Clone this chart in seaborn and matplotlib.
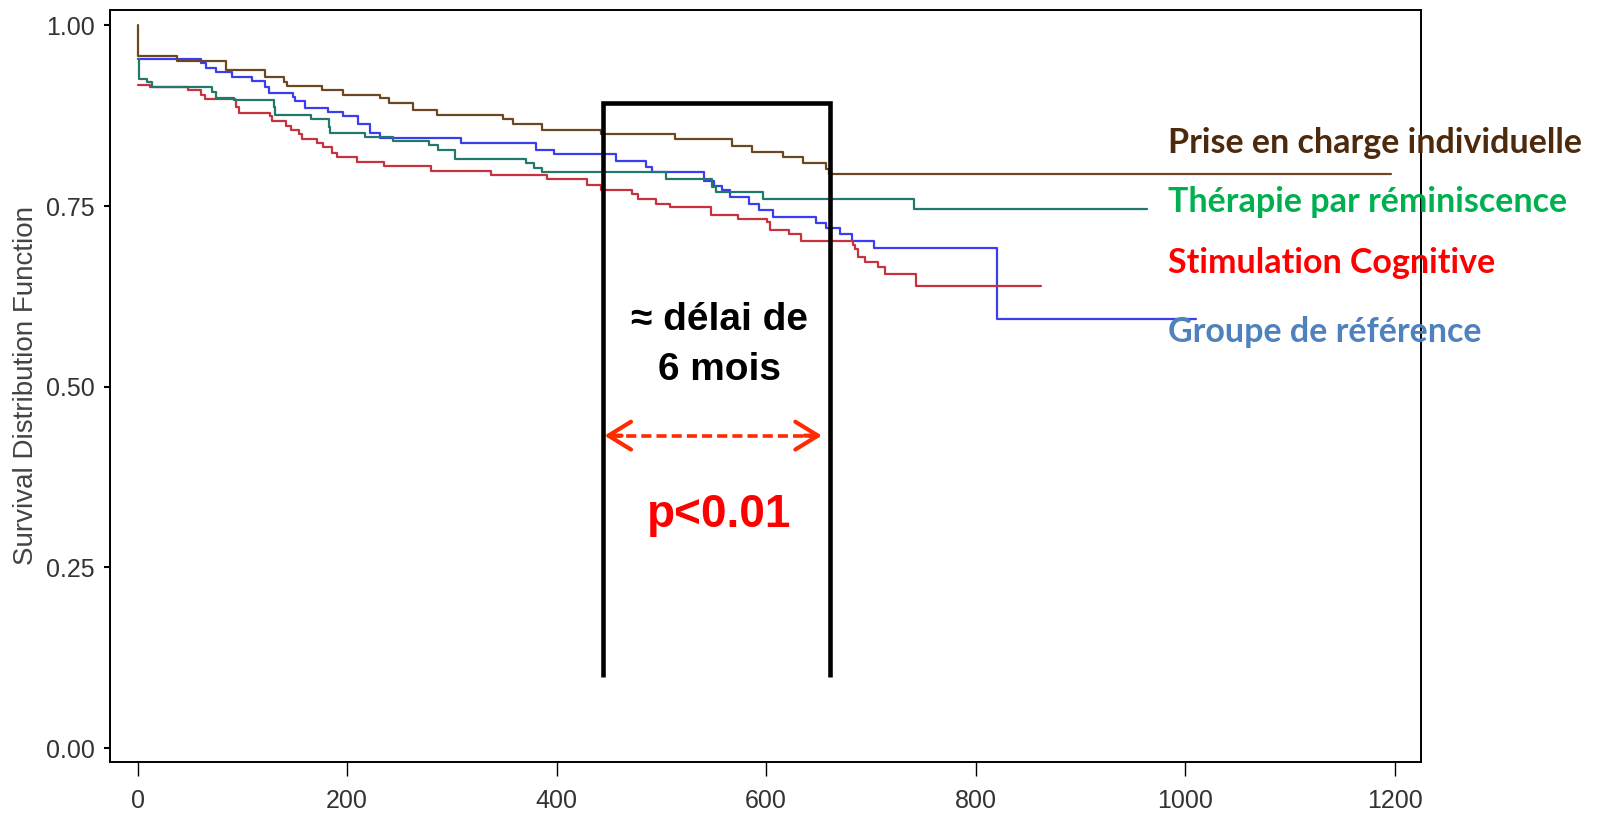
import numpy as np
import pandas as pd
import matplotlib
matplotlib.use("Agg")
import matplotlib.pyplot as plt
import seaborn as sns

# ==========================================
# 1. DATA
# ==========================================
# each group: times (days) where the step changes, and survival value from that time on
groups = ["Groupe de référence", "Stimulation Cognitive",
          "Thérapie par réminiscence", "Prise en charge individuelle"]

t_ref = [0, 61, 65, 75, 90, 109, 122, 125, 148, 150, 160, 182, 196, 210, 222, 231,
         309, 380, 398, 457, 485, 491, 541, 550, 558, 566, 584, 593, 607, 648, 657,
         671, 682, 703, 820, 1010]
s_ref = [0.953, 0.948, 0.941, 0.936, 0.929, 0.923, 0.915, 0.907, 0.901, 0.895, 0.886,
         0.880, 0.874, 0.864, 0.851, 0.844, 0.837, 0.827, 0.822, 0.812, 0.804, 0.797,
         0.784, 0.778, 0.772, 0.763, 0.753, 0.744, 0.735, 0.726, 0.719, 0.711, 0.702,
         0.692, 0.594, 0.594]

t_stim = [0, 12, 48, 61, 64, 93, 94, 97, 126, 128, 142, 146, 154, 157, 171, 177, 186,
          190, 209, 235, 280, 337, 391, 429, 442, 472, 478, 495, 508, 547, 573, 601,
          604, 622, 633, 683, 685, 688, 694, 707, 714, 743, 862]
s_stim = [0.917, 0.914, 0.910, 0.904, 0.898, 0.896, 0.887, 0.879, 0.874, 0.868, 0.861,
          0.855, 0.849, 0.843, 0.837, 0.831, 0.824, 0.818, 0.811, 0.806, 0.799, 0.793,
          0.787, 0.779, 0.772, 0.766, 0.760, 0.753, 0.748, 0.738, 0.732, 0.728, 0.717,
          0.711, 0.702, 0.696, 0.691, 0.680, 0.672, 0.665, 0.656, 0.640, 0.640]

t_remi = [0, 1.5, 9, 14, 71, 75, 92, 130, 131, 166, 183, 184, 217, 244, 278, 287, 303,
          371, 378, 386, 504, 548, 552, 597, 741, 964]
s_remi = [0.954, 0.926, 0.921, 0.914, 0.908, 0.900, 0.896, 0.887, 0.876, 0.870, 0.860,
          0.851, 0.846, 0.840, 0.834, 0.827, 0.815, 0.809, 0.803, 0.797, 0.788, 0.776,
          0.770, 0.760, 0.746, 0.746]

t_indiv = [0, 0.8, 38, 84, 122, 140, 143, 176, 196, 231, 240, 263, 286, 349, 358, 386,
           442, 513, 567, 587, 616, 635, 657, 660, 1197]
s_indiv = [1.000, 0.957, 0.951, 0.938, 0.929, 0.922, 0.916, 0.910, 0.904, 0.899, 0.892,
           0.883, 0.876, 0.870, 0.864, 0.855, 0.849, 0.843, 0.833, 0.825, 0.818, 0.809,
           0.801, 0.794, 0.794]

x_ticks = [0, 200, 400, 600, 800, 1000, 1200]
y_ticks = [0.00, 0.25, 0.50, 0.75, 1.00]

line_colors = {"Groupe de référence": "#3c3cf0",
               "Stimulation Cognitive": "#c8323f",
               "Thérapie par réminiscence": "#22786a",
               "Prise en charge individuelle": "#6b4822"}
label_colors = {"Prise en charge individuelle": "#4e2a0d",
                "Thérapie par réminiscence": "#00b050",
                "Stimulation Cognitive": "#ff0000",
                "Groupe de référence": "#4f81bd"}

df = pd.concat([
    pd.DataFrame({"days": t_ref, "surv": s_ref, "group": groups[0]}),
    pd.DataFrame({"days": t_stim, "surv": s_stim, "group": groups[1]}),
    pd.DataFrame({"days": t_remi, "surv": s_remi, "group": groups[2]}),
    pd.DataFrame({"days": t_indiv, "surv": s_indiv, "group": groups[3]}),
], ignore_index=True)

# ==========================================
# 2. PLOT
# ==========================================
sns.set_theme(style="white")
plt.rcParams["font.family"] = ["Liberation Sans", "DejaVu Sans"]

fig = plt.figure(figsize=(15.97, 8.18), dpi=100)
ax = fig.add_axes([0.0689, 0.0685, 0.821, 0.9193])

sns.lineplot(data=df, x="days", y="surv", hue="group", hue_order=groups,
             palette=line_colors, estimator=None, drawstyle="steps-post",
             linewidth=1.6, legend=False, ax=ax)

ax.set_xlim(-26.3, 1225.4)
ax.set_ylim(-0.019, 1.0212)
ax.set_xticks(x_ticks)
ax.set_yticks(y_ticks)
ax.set_yticklabels([f"{v:.2f}" for v in y_ticks])
ax.set_xlabel("")
ax.set_ylabel("Survival Distribution Function", fontsize=20, color="#444444", labelpad=5)

for sp in ax.spines.values():
    sp.set_visible(True)
    sp.set_color("black")
    sp.set_linewidth(1.4)
ax.tick_params(axis="y", left=True, length=4.5, width=1.5, pad=6.5,
               labelsize=18, labelcolor="#333333", color="black")
ax.tick_params(axis="x", bottom=True, length=10, width=1, pad=9.5,
               labelsize=18, labelcolor="#333333", color="black")

# bracket showing the ~6 month delay
ax.plot([444.6, 444.6, 661.2, 661.2], [0.0985, 0.893, 0.893, 0.0985],
        color="black", lw=3.3, solid_joinstyle="miter", solid_capstyle="butt",
        zorder=5)

# dashed double arrow
arrow_col = "#ff2a00"
ax.plot([452, 647], [0.4324, 0.4324], color=arrow_col, lw=2.6, ls=(0, (2.8, 1.4)), zorder=5)
for tip, tail in [(445.7, 462), (653.3, 637)]:
    ax.annotate("", xy=(tip, 0.4324), xytext=(tail, 0.4324),
                arrowprops=dict(arrowstyle="->,head_length=0.65,head_width=0.4",
                                color=arrow_col, lw=3, mutation_scale=25,
                                shrinkA=0, shrinkB=0))

ax.text(555.2, 0.5786, "≈ délai de", ha="center", va="baseline", fontsize=28,
        fontweight="bold", color="black")
ax.text(555.2, 0.509, "6 mois", ha="center", va="baseline", fontsize=28,
        fontweight="bold", color="black")
ax.text(554.8, 0.3065, "p<0.01", ha="center", va="baseline", fontsize=33,
        fontweight="bold", color="#ff0000")

# group labels on the right
label_y = {"Prise en charge individuelle": 0.837,
           "Thérapie par réminiscence": 0.756,
           "Stimulation Cognitive": 0.671,
           "Groupe de référence": 0.576}
for g, yv in label_y.items():
    ax.text(984, yv, g, ha="left", va="center", fontsize=24.5, fontweight="bold",
            color=label_colors[g], family=["Lato", "DejaVu Sans"], clip_on=False,
            zorder=6)

fig.savefig("out.png", dpi=100, facecolor="white")
